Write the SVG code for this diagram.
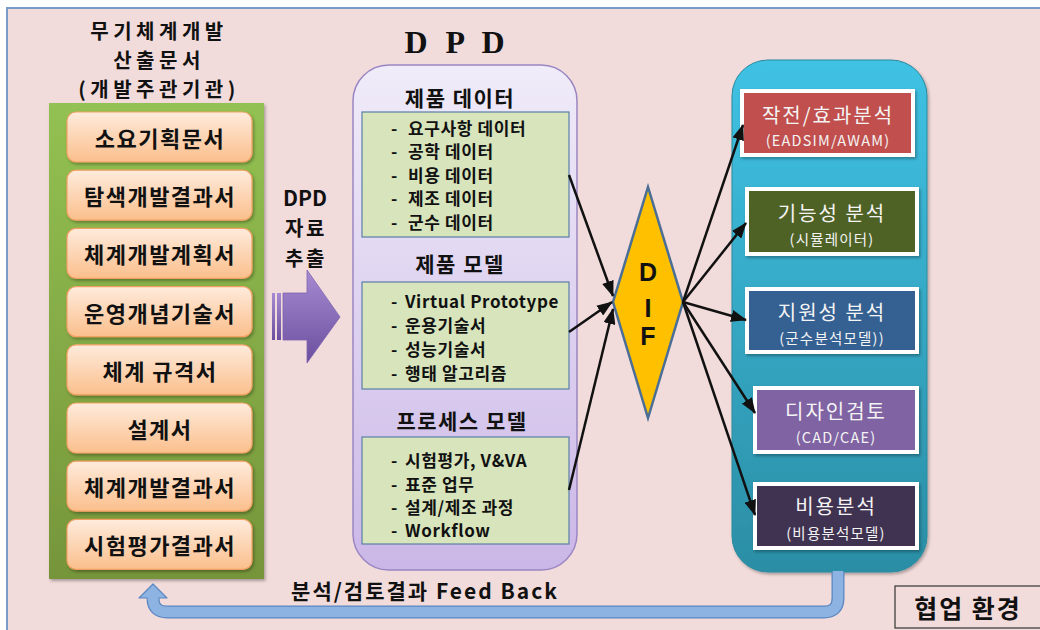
<svg xmlns="http://www.w3.org/2000/svg" width="1040" height="630" viewBox="0 0 1040 630">
<defs>
<linearGradient id="gOrange" x1="0" y1="0" x2="0" y2="1"><stop offset="0" stop-color="#FEEBDC"/><stop offset="1" stop-color="#FBBF8C"/></linearGradient>
<linearGradient id="gGreen" x1="0" y1="0" x2="0" y2="1"><stop offset="0" stop-color="#93C152"/><stop offset="1" stop-color="#76953A"/></linearGradient>
<linearGradient id="gDPD" x1="0" y1="0" x2="0" y2="1"><stop offset="0" stop-color="#F0ECF9"/><stop offset="1" stop-color="#CBB7E7"/></linearGradient>
<linearGradient id="gCyan" x1="0" y1="0" x2="0" y2="1"><stop offset="0" stop-color="#3FC2E4"/><stop offset="1" stop-color="#2B8EA5"/></linearGradient>
<linearGradient id="gPurple" x1="0" y1="0" x2="0" y2="1"><stop offset="0" stop-color="#A68BD2"/><stop offset="1" stop-color="#6B4F9F"/></linearGradient>
<filter id="sh" x="-10%" y="-10%" width="130%" height="130%"><feDropShadow dx="1.5" dy="2" stdDeviation="1.5" flood-color="#000" flood-opacity="0.3"/></filter>
<marker id="ah" markerUnits="userSpaceOnUse" markerWidth="16" markerHeight="12" refX="15" refY="6" orient="auto"><path d="M0,0 L16,6 L0,12 z" fill="#111"/></marker>
</defs>
<style>
.kb{font-family:"Noto Sans CJK KR","Noto Sans",sans-serif;font-weight:bold;fill:#111}
.ttl{font-size:20px;letter-spacing:4.5px;text-anchor:middle;dominant-baseline:central}
.ext{font-size:20px;letter-spacing:2.5px;text-anchor:middle;dominant-baseline:central}
.ob{font-size:22px;letter-spacing:1.5px;text-anchor:middle;dominant-baseline:central}
.sec{font-size:21px;letter-spacing:1.5px;text-anchor:middle;dominant-baseline:central}
.it{font-size:17px;letter-spacing:0.6px;dominant-baseline:central}
.wt{font-family:"Noto Sans CJK KR","Noto Sans",sans-serif;fill:#F4F4F4;text-anchor:middle;dominant-baseline:central}
.mt{font-size:20px;letter-spacing:2px}
.st{font-size:14.5px;letter-spacing:1.2px}
.ob-rect{fill:url(#gOrange);stroke:#F2A062;stroke-width:1.2}
.gb{fill:#D7E4BC;stroke:#5A7FA6;stroke-width:1.2}
.conn line{stroke:#111;stroke-width:2.5;marker-end:url(#ah)}
.rb{stroke:#FFFFFF;stroke-width:4}
</style>
<rect x="7" y="8" width="1045" height="640" fill="#F2DCDB" stroke="#7A9CC8" stroke-width="2"/>

<g id="title-left">
<text class="kb ttl" x="159" y="30">무기체계개발</text>
<text class="kb ttl" x="159" y="59">산출문서</text>
<text class="kb ttl" x="159" y="88">(개발주관기관)</text>
</g>

<g id="docs-panel">
<rect x="49" y="103" width="215" height="476" fill="url(#gGreen)" filter="url(#sh)"/>
</g>
<g id="doc1"><rect class="ob-rect" x="67" y="112" width="185" height="50" rx="9" filter="url(#sh)"/><text class="kb ob" x="160" y="137">소요기획문서</text></g>
<g id="doc2"><rect class="ob-rect" x="67" y="170.2" width="185" height="50" rx="9" filter="url(#sh)"/><text class="kb ob" x="160" y="195.2">탐색개발결과서</text></g>
<g id="doc3"><rect class="ob-rect" x="67" y="228.4" width="185" height="50" rx="9" filter="url(#sh)"/><text class="kb ob" x="160" y="253.4">체계개발계획서</text></g>
<g id="doc4"><rect class="ob-rect" x="67" y="286.6" width="185" height="50" rx="9" filter="url(#sh)"/><text class="kb ob" x="160" y="311.6">운영개념기술서</text></g>
<g id="doc5"><rect class="ob-rect" x="67" y="344.8" width="185" height="50" rx="9" filter="url(#sh)"/><text class="kb ob" x="160" y="369.8">체계 규격서</text></g>
<g id="doc6"><rect class="ob-rect" x="67" y="403" width="185" height="50" rx="9" filter="url(#sh)"/><text class="kb ob" x="160" y="428">설계서</text></g>
<g id="doc7"><rect class="ob-rect" x="67" y="461.2" width="185" height="50" rx="9" filter="url(#sh)"/><text class="kb ob" x="160" y="486.2">체계개발결과서</text></g>
<g id="doc8"><rect class="ob-rect" x="67" y="519.4" width="185" height="50" rx="9" filter="url(#sh)"/><text class="kb ob" x="160" y="544.4">시험평가결과서</text></g>

<g id="extract">
<text class="kb" x="305" y="197" font-size="21" text-anchor="middle" dominant-baseline="central">DPD</text>
<text class="kb ext" x="306" y="227">자료</text>
<text class="kb ext" x="306" y="257">추출</text>
<rect x="272" y="293" width="3" height="47" fill="url(#gPurple)"/>
<rect x="277" y="293" width="4" height="47" fill="url(#gPurple)"/>
<polygon points="283,293 307,293 307,270 340,317 307,363 307,340 283,340" fill="url(#gPurple)" stroke="#7E63B0" stroke-width="0.8"/>
</g>

<g id="dpd">
<text x="457" y="53" font-family="'Liberation Serif',serif" font-weight="bold" font-size="32" letter-spacing="5" text-anchor="middle" fill="#111">D P D</text>
<rect x="353" y="65" width="224" height="505" rx="36" fill="url(#gDPD)" stroke="#9A86C2" stroke-width="1.5"/>
<text class="kb sec" x="460" y="97">제품 데이터</text>
<rect class="gb" x="362" y="112" width="207" height="125"/>
<text class="kb it" x="391" y="127">-</text><text class="kb it" x="408" y="127">요구사항 데이터</text>
<text class="kb it" x="391" y="150.5">-</text><text class="kb it" x="408" y="150.5">공학 데이터</text>
<text class="kb it" x="391" y="174">-</text><text class="kb it" x="408" y="174">비용 데이터</text>
<text class="kb it" x="391" y="197.5">-</text><text class="kb it" x="408" y="197.5">제조 데이터</text>
<text class="kb it" x="391" y="221">-</text><text class="kb it" x="408" y="221">군수 데이터</text>
<text class="kb sec" x="460" y="263">제품 모델</text>
<rect class="gb" x="362" y="282" width="207" height="107"/>
<text class="kb it" x="391" y="300">-</text><text class="kb it" x="405" y="300">Virtual Prototype</text>
<text class="kb it" x="391" y="324">-</text><text class="kb it" x="405" y="324">운용기술서</text>
<text class="kb it" x="391" y="348">-</text><text class="kb it" x="405" y="348">성능기술서</text>
<text class="kb it" x="391" y="372">-</text><text class="kb it" x="405" y="372">행태 알고리즘</text>
<text class="kb sec" x="462" y="420">프로세스 모델</text>
<rect class="gb" x="362" y="437" width="207" height="107"/>
<text class="kb it" x="391" y="459">-</text><text class="kb it" x="405" y="459">시험평가, V&amp;VA</text>
<text class="kb it" x="391" y="483">-</text><text class="kb it" x="405" y="483">표준 업무</text>
<text class="kb it" x="391" y="506">-</text><text class="kb it" x="405" y="506">설계/제조 과정</text>
<text class="kb it" x="391" y="529">-</text><text class="kb it" x="405" y="529">Workflow</text>
</g>

<g id="dif">
<polygon points="648,187 683,302 648,418 613,302" fill="#FFC000" stroke="#4A6E96" stroke-width="2.5"/>
<text x="648" y="272" font-family="'Liberation Sans',sans-serif" font-weight="bold" font-size="25" text-anchor="middle" dominant-baseline="central" fill="#111">D</text>
<text x="648" y="308" font-family="'Liberation Sans',sans-serif" font-weight="bold" font-size="25" text-anchor="middle" dominant-baseline="central" fill="#111">I</text>
<text x="648" y="336" font-family="'Liberation Sans',sans-serif" font-weight="bold" font-size="25" text-anchor="middle" dominant-baseline="central" fill="#111">F</text>
</g>

<g id="collab-env">
<rect x="732" y="60" width="195" height="512" rx="36" fill="url(#gCyan)" stroke="#2A8AA0" stroke-width="1" filter="url(#sh)"/>
</g>
<g id="ops"><rect class="rb" x="742" y="91" width="171" height="64" fill="#C0504D" filter="url(#sh)"/><text class="wt mt" x="828" y="114">작전/효과분석</text><text class="wt st" x="828" y="139">(EADSIM/AWAM)</text></g>
<g id="func"><rect class="rb" x="747" y="189" width="170" height="65" fill="#4F6228" filter="url(#sh)"/><text class="wt mt" x="832" y="212" font-size="22">기능성 분석</text><text class="wt st" x="832" y="238">(시뮬레이터)</text></g>
<g id="support"><rect class="rb" x="747" y="289" width="170" height="63" fill="#366092" filter="url(#sh)"/><text class="wt mt" x="832" y="311" font-size="22">지원성 분석</text><text class="wt st" x="832" y="337">(군수분석모델))</text></g>
<g id="design"><rect class="rb" x="755" y="388" width="162" height="64" fill="#8064A2" filter="url(#sh)"/><text class="wt mt" x="836" y="410" font-size="22">디자인검토</text><text class="wt st" x="836" y="436">(CAD/CAE)</text></g>
<g id="cost"><rect class="rb" x="755" y="484" width="162" height="64" fill="#403151" filter="url(#sh)"/><text class="wt mt" x="836" y="505" font-size="22">비용분석</text><text class="wt st" x="836" y="532">(비용분석모델)</text></g>

<g id="connectors" class="conn">
<line x1="569" y1="175" x2="613" y2="296"/>
<line x1="569" y1="332" x2="612" y2="302"/>
<line x1="569" y1="490" x2="613" y2="309"/>
<line x1="683" y1="302" x2="743" y2="125"/>
<line x1="683" y1="302" x2="746" y2="223"/>
<line x1="683" y1="302" x2="746" y2="320"/>
<line x1="683" y1="302" x2="755" y2="413"/>
<line x1="683" y1="302" x2="755" y2="515"/>
</g>

<g id="feedback">
<path d="M838,572 V598 Q838,612 824,612 H167 Q153,612 153,598 V596" fill="none" stroke="#5B86C0" stroke-width="13"/>
<path d="M838,571 V598 Q838,612 824,612 H167 Q153,612 153,598 V595" fill="none" stroke="#8DB3E2" stroke-width="10.5"/>
<polygon points="153,584 167,598 139,598" fill="#8DB3E2" stroke="#5B86C0" stroke-width="1.2" stroke-linejoin="round"/>
<rect x="147.6" y="596" width="10.8" height="4" fill="#8DB3E2"/>
<text class="kb" x="425" y="590" font-size="21" letter-spacing="2" text-anchor="middle" dominant-baseline="central">분석/검토결과 Feed Back</text>
</g>

<g id="collab-label">
<rect x="895" y="586" width="150" height="42" fill="#F2DCDB" stroke="#333" stroke-width="1.2"/>
<text class="kb" x="968" y="607" font-size="25" letter-spacing="2" text-anchor="middle" dominant-baseline="central">협업 환경</text>
</g>
</svg>
